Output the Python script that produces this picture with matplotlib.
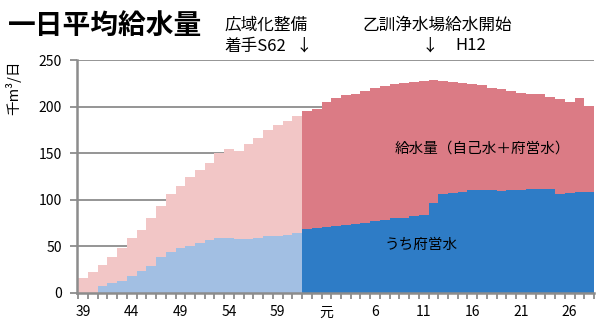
import matplotlib
matplotlib.use("Agg")
import matplotlib.pyplot as plt
import numpy as np

plt.rcParams['font.family'] = ['Noto Sans CJK JP', 'DejaVu Sans']

# Fiscal years S39 .. H28 (1964 .. 2016)
years = list(range(1964, 2017))
tick_labels = ["39", "44", "49", "54", "59", "元", "6", "11", "16", "21", "26"]
tick_years = [1964, 1969, 1974, 1979, 1984, 1989, 1994, 1999, 2004, 2009, 2014]

# total supply (own water + prefectural water), thousand m3/day
total = [16, 23, 30, 39, 48, 59, 68, 80, 93, 106, 115, 125, 132, 140, 150, 154, 152,
         160, 166, 175, 180, 185, 190,
         195, 197, 205, 209, 212, 214, 217, 220, 222, 224, 225, 226, 227, 229,
         227, 226, 225, 224, 223, 220, 219, 217, 215, 214, 213, 210, 208, 205, 209, 201]
# of which prefectural water
pref = [0, 0, 7.5, 11, 13, 18, 23.5, 28.5, 39, 44, 48, 50, 54, 56.5, 58.5, 59.5, 58,
        58, 59, 61, 61, 62, 64.5,
        69, 70, 71, 72, 73, 74, 75, 77, 78, 80, 81, 83, 84, 97,
        106, 107, 108, 110, 110, 110, 109, 110, 110, 112, 112, 112, 106, 107, 108, 108]

split_year = 1987  # S62: start of regional integration

x = np.arange(len(years))
light = np.array(years) < split_year

fig = plt.figure(figsize=(5.96, 3.22), dpi=100)
ax = fig.add_axes([77/596, 1-293/322, (594-77)/596, (293-60)/322])

grid_c = '#8c8c8c'
for v in [50, 100, 150, 200, 250]:
    ax.axhline(v, color=grid_c, lw=1.3, zorder=0)

c_pink_l, c_pink_d = '#F2C6C6', '#DB7B85'
c_blue_l, c_blue_d = '#A2BFE3', '#2E7CC6'

tot = np.array(total)
pr = np.array(pref)
ax.bar(x[light], tot[light], width=1.0, color=c_pink_l, lw=0, zorder=2)
ax.bar(x[~light], tot[~light], width=1.0, color=c_pink_d, lw=0, zorder=2)
ax.bar(x[light], pr[light], width=1.0, color=c_blue_l, lw=0, zorder=3)
ax.bar(x[~light], pr[~light], width=1.0, color=c_blue_d, lw=0, zorder=3)

ax.set_xlim(-0.63, len(years) - 0.5)
ax.set_ylim(0, 250)
ax.set_yticks([0, 50, 100, 150, 200, 250])
ax.tick_params(axis='y', length=5, width=1.3, color=grid_c, labelsize=10, pad=6)

ax.set_xticks([years.index(y) for y in tick_years])
ax.set_xticklabels(tick_labels)
ax.set_xticks(np.arange(len(years) + 1) - 0.5, minor=True)
ax.tick_params(axis='x', which='major', length=0, labelsize=10, pad=9)
ax.tick_params(axis='x', which='minor', length=4, width=1.3, color=grid_c)

for s in ['top', 'right']:
    ax.spines[s].set_visible(False)
for s in ['left', 'bottom']:
    ax.spines[s].set_color(grid_c)
    ax.spines[s].set_linewidth(1.8)
ax.spines['left'].set_zorder(5)
ax.spines['bottom'].set_zorder(5)

def fx(px):
    return px / 596

def fy(py):
    return 1 - py / 322

fig.text(fx(8), fy(26), "一日平均給水量", fontsize=20, fontweight='bold', va='center', ha='left')
fig.text(fx(224), fy(25), "広域化整備", fontsize=12, va='center', ha='left')
fig.text(fx(224), fy(46), "着手S62", fontsize=12, va='center', ha='left')
fig.text(fx(304), fy(46), "↓", fontsize=12, va='center', ha='center')
fig.text(fx(362), fy(25), "乙訓浄水場給水開始", fontsize=12, va='center', ha='left')
fig.text(fx(430), fy(46), "↓", fontsize=12, va='center', ha='center')
fig.text(fx(455), fy(46), "H12", fontsize=12, va='center', ha='left')
fig.text(fx(13), fy(88), "千m³/日", fontsize=10.5, rotation=90, va='center', ha='center')

ax.text(years.index(2005), 155, "給水量（自己水＋府営水）", fontsize=10.5, ha='center', va='center', zorder=6)
ax.text(years.index(1999) - 0.3, 52, "うち府営水", fontsize=10.5, ha='center', va='center', zorder=6)

fig.savefig("out.png", dpi=100)
